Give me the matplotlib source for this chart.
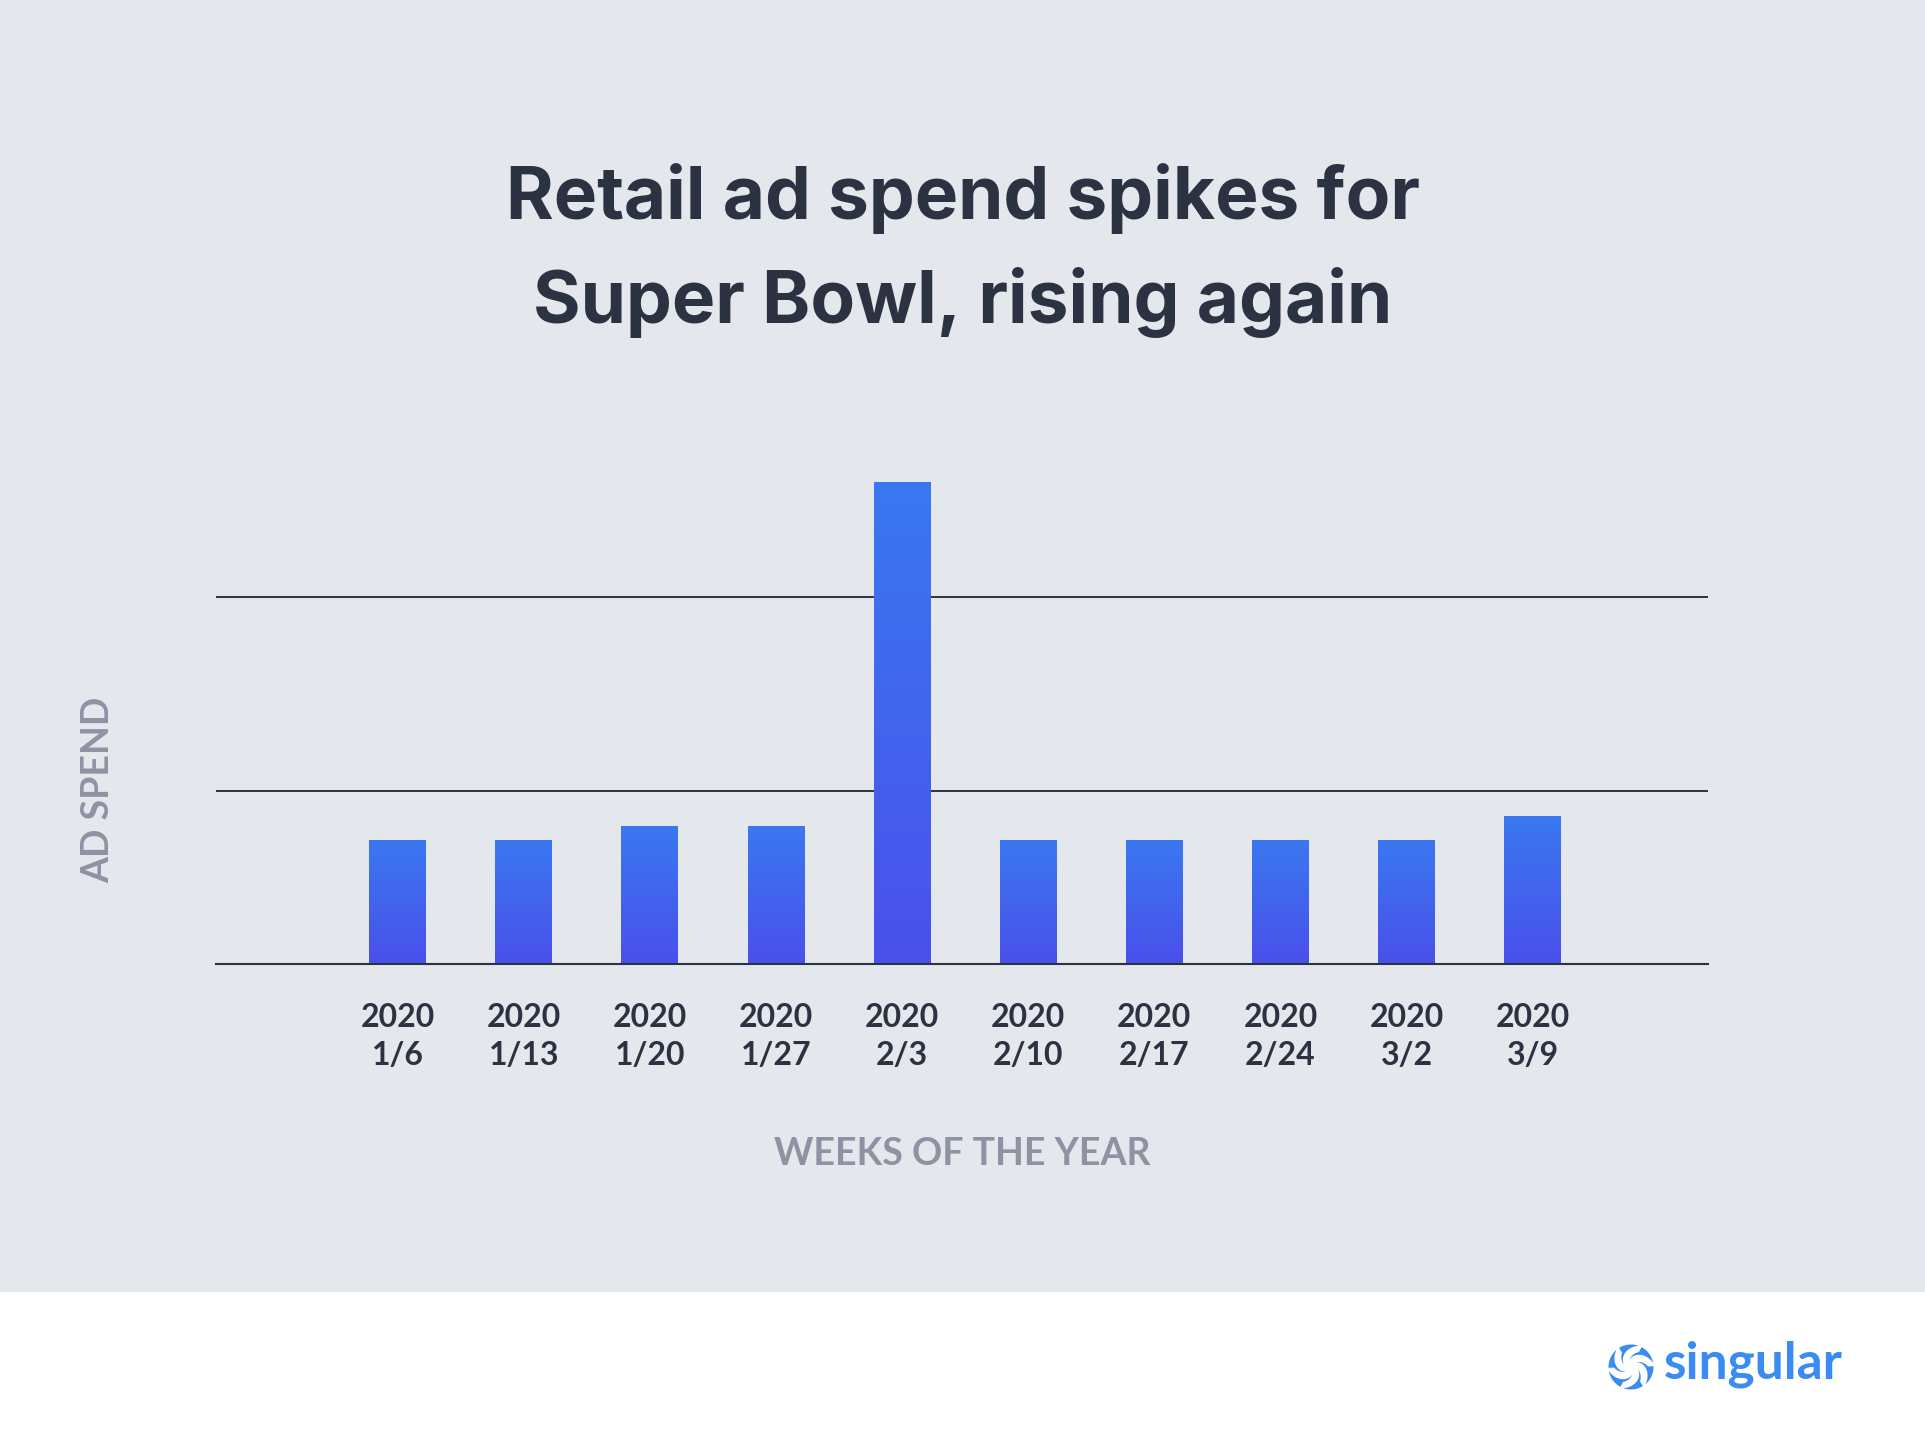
import numpy as np
import matplotlib
matplotlib.use("Agg")
import matplotlib.pyplot as plt
from matplotlib.patches import Rectangle, Polygon
from matplotlib.colors import LinearSegmentedColormap

# ---- data ----
years = ["2020"] * 10
weeks = ["1/6", "1/13", "1/20", "1/27", "2/3", "2/10", "2/17", "2/24", "3/2", "3/9"]
ad_spend = [0.75, 0.75, 0.82, 0.82, 2.59, 0.75, 0.75, 0.75, 0.75, 0.87]
grid_ticks = [1, 2]
title_lines = ["Retail ad spend spikes for", "Super Bowl, rising again"]
x_label = "WEEKS OF THE YEAR"
y_label = "AD SPEND"
brand = "singular"

BG = "#E4E7EC"
DARK = "#2B3342"
GREY = "#8E93A3"
BLUE = "#3A8BF2"
FONT = "Lato"
TFONT = "Inter"

W, H = 1925, 1448
fig = plt.figure(figsize=(W / 100, H / 100), dpi=100)
fig.patch.set_facecolor("white")
fig.patches.append(Rectangle((0, 1 - 1292 / H), 1, 1292 / H, transform=fig.transFigure,
                             facecolor=BG, edgecolor="none", zorder=-10))

ax = fig.add_axes([216 / W, 1 - 964 / H, (1708 - 216) / W, (964 - 451) / H])
ax.set_facecolor("none")
x = np.arange(len(weeks))
bars = ax.bar(x, ad_spend, width=0.45, bottom=0, zorder=3)

cmap = LinearSegmentedColormap.from_list("g", ["#4A50EB", "#3A78F0"])
grad = np.linspace(0, 1, 256).reshape(-1, 1)
for b in bars:
    bx, by = b.get_x(), b.get_y()
    bw, bh = b.get_width(), b.get_height()
    b.set_facecolor("none")
    b.set_edgecolor("none")
    im = ax.imshow(grad, cmap=cmap, origin="lower", aspect="auto",
                   extent=[bx, bx + bw, 0.11, by + bh], zorder=3)
    im.set_clip_path(b)
ax.set_xlim(-1.44, 10.39)
ax.set_ylim(0.11, 2.75)

for s in ["top", "left", "right"]:
    ax.spines[s].set_visible(False)
ax.spines["bottom"].set_color(DARK)
ax.spines["bottom"].set_linewidth(1.5)
ax.spines["bottom"].set_zorder(4)
ax.set_yticks(grid_ticks)
ax.set_yticklabels([])
ax.tick_params(axis="y", length=0)
ax.yaxis.grid(True, color=DARK, linewidth=1.4, zorder=1)
ax.set_axisbelow(True)

ax.set_xticks(x)
ax.set_xticklabels([f"{y}\n{w}" for y, w in zip(years, weeks)],
                   fontsize=23, fontweight="bold", color=DARK, family=FONT,
                   linespacing=1.38)
ax.tick_params(axis="x", length=0, pad=28)

fig.text(0.5, 1 - 199 / H, title_lines[0], ha="center", va="center",
         fontsize=52.5, fontweight="bold", color=DARK, family=TFONT)
fig.text(0.5, 1 - 303 / H, title_lines[1], ha="center", va="center",
         fontsize=52.5, fontweight="bold", color=DARK, family=TFONT)

fig.text(962 / W, 1 - 1154 / H, x_label, ha="center", va="center",
         fontsize=27, fontweight="bold", color=GREY, family=FONT)
fig.text(98 / W, 1 - 790 / H, y_label, ha="center", va="center", rotation=90,
         fontsize=27, fontweight="bold", color=GREY, family=FONT)

# brand logo
fig.text(1664 / W, 1 - 1379 / H, brand, ha="left", va="baseline",
         fontsize=37, fontweight="bold", color=BLUE, family=FONT)
lax = fig.add_axes([(1631 - 26) / W, 1 - (1367 + 26) / H, 52 / W, 52 / H])
lax.set_xlim(-26, 26)
lax.set_ylim(-26, 26)
lax.axis("off")
R, r_in = 22.5, 7.0
for k in range(6):
    a0 = np.deg2rad(k * 60 + 10)
    t_out = np.linspace(a0, a0 + np.deg2rad(52), 30)
    outer = np.c_[R * np.cos(t_out), R * np.sin(t_out)]
    s = np.linspace(0, 1, 30)
    rr = (R - 5.5) - s * (R - 5.5 - r_in)
    t_in = a0 + np.deg2rad(52) + s * np.deg2rad(40)
    inner = np.c_[rr * np.cos(t_in), rr * np.sin(t_in)]
    rr2 = r_in + s * (R - r_in)
    t2 = a0 + np.deg2rad(92) - s * np.deg2rad(92)
    back = np.c_[rr2 * np.cos(t2), rr2 * np.sin(t2)]
    poly = Polygon(np.vstack([outer, inner, back]), closed=True,
                   facecolor=BLUE, edgecolor="none")
    lax.add_patch(poly)

fig.savefig("out.png", dpi=100, facecolor=fig.get_facecolor())
